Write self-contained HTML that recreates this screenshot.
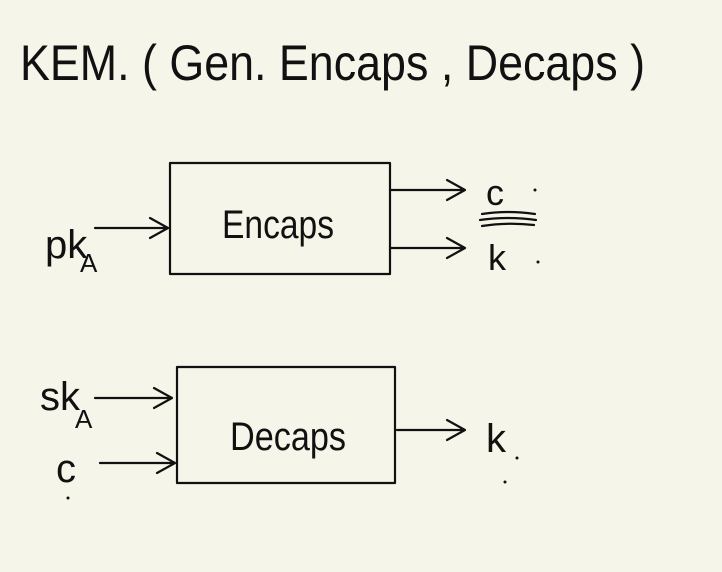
<!DOCTYPE html>
<html><head><meta charset="utf-8"><style>
html,body{margin:0;padding:0;background:#f5f5e9;}
svg{display:block}
text{font-family:"Liberation Sans",sans-serif;fill:#111;}
</style></head><body>
<svg width="722" height="572" viewBox="0 0 722 572" xmlns="http://www.w3.org/2000/svg">
<rect width="722" height="572" fill="#f5f5e9"/>
<text x="20" y="80" font-size="50" textLength="625" lengthAdjust="spacingAndGlyphs">KEM. ( Gen. Encaps , Decaps )</text>
<g stroke="#111" stroke-width="2.2" fill="none" stroke-linecap="round" stroke-linejoin="round">
<rect x="170" y="163" width="220" height="111"/>
<rect x="177" y="367" width="218" height="116"/>
<path d="M95 228 L168 228 M150 218 L168 228 L150 238"/>
<path d="M390 190 L465 190 M447 180 L465 190 L447 200"/>
<path d="M390 248 L465 248 M447 238 L465 248 L447 258"/>
<path d="M482 214 Q508 210 535 214 M480 220 Q508 216 536 220 M482 226 Q508 222 534 225"/>
<path d="M95 398 L172 398 M154 388 L172 398 L154 408"/>
<path d="M100 463 L175 463 M157 453 L175 463 L157 473"/>
<path d="M397 430 L465 430 M447 420 L465 430 L447 440"/>
</g>
<text x="222" y="238" font-size="40" textLength="112" lengthAdjust="spacingAndGlyphs">Encaps</text>
<text x="230" y="450" font-size="40" textLength="116" lengthAdjust="spacingAndGlyphs">Decaps</text>
<text x="45" y="258" font-size="40">pk</text>
<text x="80" y="272" font-size="26">A</text>
<text x="40" y="410" font-size="40">sk</text>
<text x="75" y="428" font-size="26">A</text>
<text x="56" y="482" font-size="40">c</text>
<text x="486" y="205" font-size="36">c</text>
<text x="488" y="270" font-size="36">k</text>
<text x="486" y="452" font-size="40">k</text>
<circle cx="535" cy="190" r="1.5" fill="#111"/>
<circle cx="538" cy="262" r="1.5" fill="#111"/>
<circle cx="517" cy="458" r="1.5" fill="#111"/>
<circle cx="505" cy="482" r="1.5" fill="#111"/>
<circle cx="68" cy="498" r="1.5" fill="#111"/>
</svg>
</body></html>
